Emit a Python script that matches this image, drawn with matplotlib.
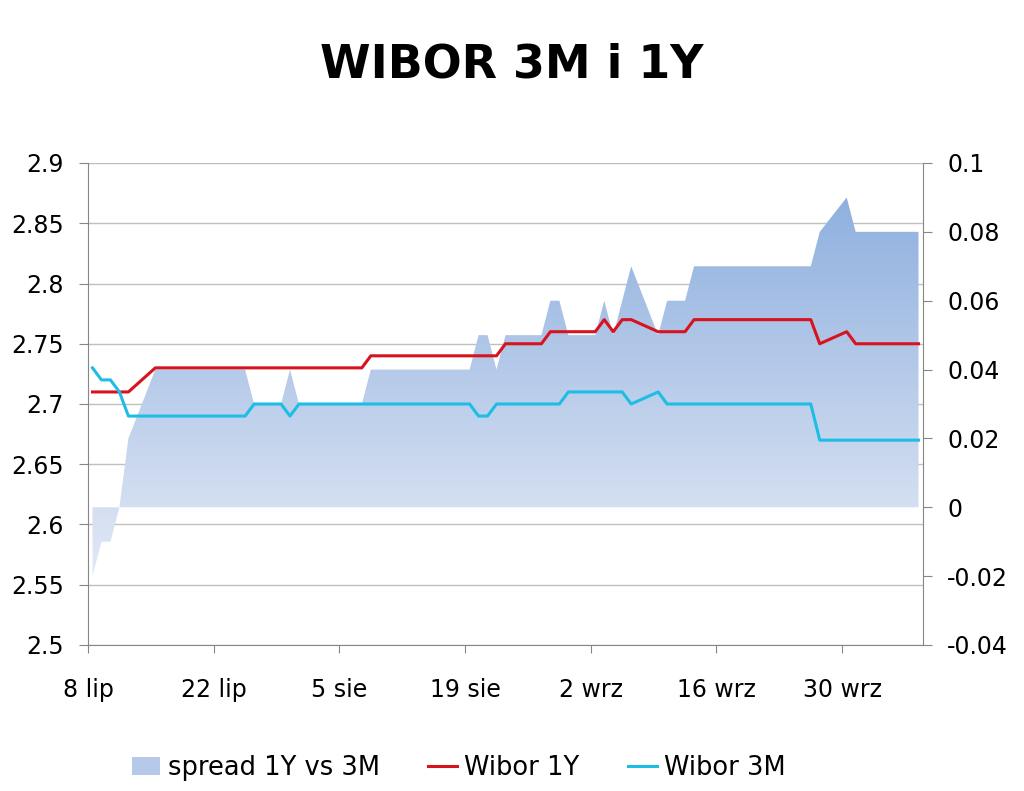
import numpy as np
import pandas as pd
import matplotlib
matplotlib.use("Agg")
import matplotlib.pyplot as plt
import matplotlib.dates as mdates
from matplotlib.colors import LinearSegmentedColormap
from matplotlib.patches import Patch, PathPatch
from matplotlib.lines import Line2D

# fixing days (business days, 15 Aug is a holiday - no fixing)
dates = pd.bdate_range("2013-07-08", "2013-10-08").drop(pd.Timestamp("2013-08-15"))

wibor_3m = [2.73, 2.72, 2.72, 2.71, 2.69,
            2.69, 2.69, 2.69, 2.69, 2.69,
            2.69, 2.69, 2.69, 2.69, 2.70,
            2.70, 2.69, 2.70, 2.70, 2.70,
            2.70, 2.70, 2.70, 2.70, 2.70,
            2.70, 2.70, 2.70, 2.70,
            2.70, 2.69, 2.69, 2.70, 2.70,
            2.70, 2.70, 2.70, 2.70, 2.71,
            2.71, 2.71, 2.71, 2.71, 2.70,
            2.71, 2.70, 2.70, 2.70, 2.70,
            2.70, 2.70, 2.70, 2.70, 2.70,
            2.70, 2.70, 2.70, 2.70, 2.67,
            2.67, 2.67, 2.67, 2.67, 2.67,
            2.67, 2.67]

wibor_1y = [2.71, 2.71, 2.71, 2.71, 2.71,
            2.73, 2.73, 2.73, 2.73, 2.73,
            2.73, 2.73, 2.73, 2.73, 2.73,
            2.73, 2.73, 2.73, 2.73, 2.73,
            2.73, 2.73, 2.73, 2.74, 2.74,
            2.74, 2.74, 2.74, 2.74,
            2.74, 2.74, 2.74, 2.74, 2.75,
            2.75, 2.75, 2.76, 2.76, 2.76,
            2.76, 2.77, 2.76, 2.77, 2.77,
            2.76, 2.76, 2.76, 2.76, 2.77,
            2.77, 2.77, 2.77, 2.77, 2.77,
            2.77, 2.77, 2.77, 2.77, 2.75,
            2.76, 2.75, 2.75, 2.75, 2.75,
            2.75, 2.75]

spread = [-0.02, -0.01, -0.01, 0.00, 0.02,
          0.04, 0.04, 0.04, 0.04, 0.04,
          0.04, 0.04, 0.04, 0.04, 0.03,
          0.03, 0.04, 0.03, 0.03, 0.03,
          0.03, 0.03, 0.03, 0.04, 0.04,
          0.04, 0.04, 0.04, 0.04,
          0.04, 0.05, 0.05, 0.04, 0.05,
          0.05, 0.05, 0.06, 0.06, 0.05,
          0.05, 0.06, 0.05, 0.06, 0.07,
          0.05, 0.06, 0.06, 0.06, 0.07,
          0.07, 0.07, 0.07, 0.07, 0.07,
          0.07, 0.07, 0.07, 0.07, 0.08,
          0.09, 0.08, 0.08, 0.08, 0.08,
          0.08, 0.08]

tick_dates = ["2013-07-08", "2013-07-22", "2013-08-05", "2013-08-19",
              "2013-09-02", "2013-09-16", "2013-09-30"]
tick_labels = ["8 lip", "22 lip", "5 sie", "19 sie", "2 wrz", "16 wrz", "30 wrz"]

left_ticks = [2.5, 2.55, 2.6, 2.65, 2.7, 2.75, 2.8, 2.85, 2.9]
right_ticks = [-0.04, -0.02, 0, 0.02, 0.04, 0.06, 0.08, 0.1]

c_1y = "#d7141e"
c_3m = "#1ebde6"
c_axis = "#868686"
c_grid = "#bfbfbf"
fs = 17

# punkty w srodku dnia (jak w Excelu)
x = mdates.date2num(dates) + 0.5
x0 = mdates.datestr2num("2013-07-08")
x1 = x0 + 93

fig = plt.figure(figsize=(10.24, 7.91), dpi=100)
rect = [88 / 1024, 146 / 791, 835 / 1024, 482 / 791]

# lewa os - siatka
ax = fig.add_axes(rect)
ax.set_xlim(x0, x1)
ax.set_ylim(2.5, 2.9)
ax.set_yticks(left_ticks)
ax.set_yticklabels([f"{v:g}" for v in left_ticks])
ax.set_xticks(mdates.datestr2num(tick_dates))
ax.set_xticklabels(tick_labels)
ax.grid(axis="y", color=c_grid, lw=1)
ax.set_axisbelow(True)
for s in ["top", "right"]:
    ax.spines[s].set_visible(False)
for s in ["left", "bottom"]:
    ax.spines[s].set_color(c_axis)
ax.tick_params(axis="y", direction="out", length=6.5, color=c_axis, pad=11, labelsize=fs)
ax.tick_params(axis="x", direction="out", length=6, color=c_axis, pad=18, labelsize=fs)

# prawa os - spread (gradient)
ax2 = ax.twinx()
ax2.set_ylim(-0.04, 0.1)
for s in ["top", "left", "bottom"]:
    ax2.spines[s].set_visible(False)
ax2.spines["right"].set_color(c_axis)
ax2.set_yticks(right_ticks)
ax2.set_yticklabels([f"{v:g}" for v in right_ticks])
ax2.tick_params(axis="y", direction="out", length=6.5, color=c_axis, pad=11, labelsize=fs)

poly = ax2.fill_between(x, 0, spread, facecolor="none", edgecolor="none")
clip = PathPatch(poly.get_paths()[0], transform=ax2.transData, facecolor="none", edgecolor="none")
ax2.add_patch(clip)
cmap = LinearSegmentedColormap.from_list("spr", ["#e3e9f5", "#8fb0df"])
grad = np.linspace(0, 1, 256).reshape(-1, 1)
im = ax2.imshow(grad, extent=[x0, x1, min(spread), max(spread)], origin="lower",
                aspect="auto", cmap=cmap, interpolation="bilinear")
im.set_clip_path(clip)
ax2.set_xlim(x0, x1)
ax2.set_ylim(-0.04, 0.1)

# linie na wierzchu
ax3 = fig.add_axes(rect, sharex=ax, sharey=ax)
ax3.axis("off")
ax3.patch.set_visible(False)
ax3.plot(x, wibor_1y, color=c_1y, lw=2.2)
ax3.plot(x, wibor_3m, color=c_3m, lw=2.2)
ax.set_zorder(0)
ax2.set_zorder(1)
ax3.set_zorder(2)

fig.text(0.5, 1 - 78 / 791, "WIBOR 3M i 1Y", ha="center", va="baseline",
         fontsize=33, fontweight="bold")

handles = [Patch(facecolor="#b7c9e8", edgecolor="none"),
           Line2D([], [], color=c_1y, lw=2.2),
           Line2D([], [], color=c_3m, lw=2.2)]
fig.legend(handles, ["spread 1Y vs 3M", "Wibor 1Y", "Wibor 3M"], loc="center",
           bbox_to_anchor=(0.448, 1 - 768 / 791), ncol=3, frameon=False,
           fontsize=18.5, handlelength=1.1, handletextpad=0.3, columnspacing=1.9)

fig.savefig("out.png", dpi=100)
